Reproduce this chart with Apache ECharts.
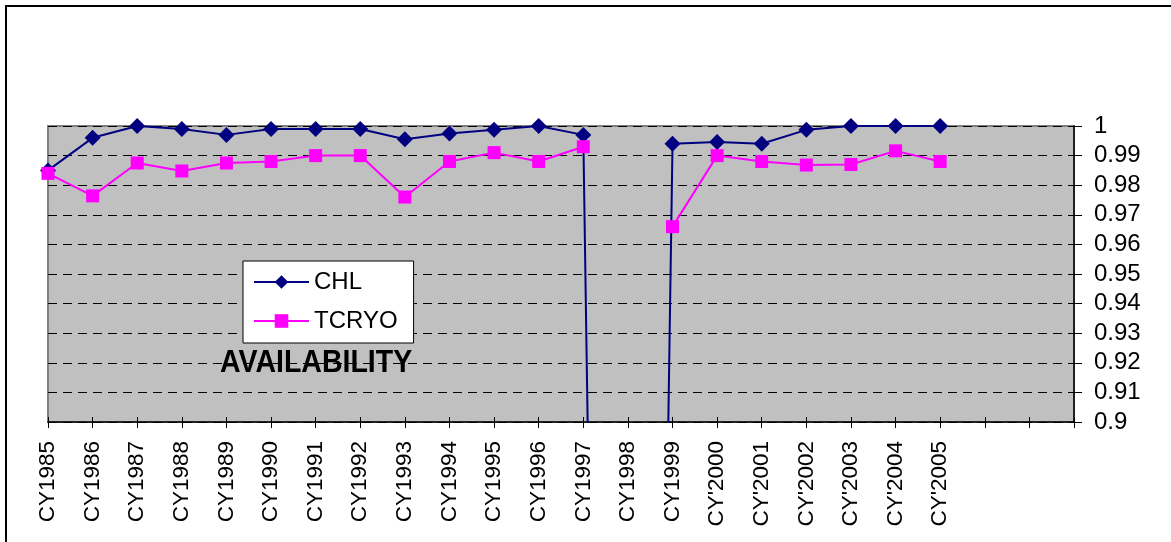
<!DOCTYPE html>
<html>
<head>
<meta charset="utf-8">
<script src="https://cdn.jsdelivr.net/npm/echarts@6/dist/echarts.min.js"></script>
<style>
  html, body { margin: 0; padding: 0; background: #fff; }
  #chart { width: 1171px; height: 542px; }
</style>
</head>
<body>
<div id="chart"></div>
<script>
// categories (last three are empty slots on the axis)
var years = ['CY1985', 'CY1986', 'CY1987', 'CY1988', 'CY1989', 'CY1990', 'CY1991',
  'CY1992', 'CY1993', 'CY1994', 'CY1995', 'CY1996', 'CY1997', 'CY1998', 'CY1999',
  "CY'2000", "CY'2001", "CY'2002", "CY'2003", "CY'2004", "CY'2005", '', '', ''];

var chl = [0.985, 0.996, 1.0, 0.999, 0.997, 0.999, 0.999, 0.999, 0.9955, 0.9975,
  0.9987, 1.0, 0.997, 0, 0.994, 0.9946, 0.994, 0.9987, 1.0, 1.0, 1.0];

var tcryo = [0.984, 0.9764, 0.9875, 0.9848, 0.9875, 0.988, 0.990, 0.990, 0.976, 0.988,
  0.991, 0.988, 0.993, null, 0.966, 0.990, 0.988, 0.9868, 0.987, 0.9916, 0.988];

var chart = echarts.init(document.getElementById('chart'));

var font = 'Liberation Sans, Arial, sans-serif';

chart.setOption({
  animation: false,
  grid: {
    left: 48, right: 97, top: 126, bottom: 120,
    show: true, backgroundColor: '#c0c0c0', borderColor: '#808080', borderWidth: 2
  },
  legend: {
    orient: 'vertical',
    left: 243, top: 261,
    padding: [9, 16, 10, 10],
    itemGap: 15,
    itemWidth: 55, itemHeight: 17,
    backgroundColor: '#fff',
    borderColor: '#000', borderWidth: 1,
    textStyle: { fontFamily: font, fontSize: 24, color: '#000' },
    data: ['CHL', 'TCRYO']
  },
  graphic: [
    {
      type: 'rect', silent: true,
      shape: { x: 6, y: 6, width: 1175, height: 545 },
      style: { fill: null, stroke: '#000', lineWidth: 2 }
    },
    {
      type: 'text', x: 220, y: 348, z: 100, scaleX: 0.92,
      style: { text: 'AVAILABILITY', fontFamily: font, fontWeight: 'bold', fontSize: 31, fill: '#000' }
    }
  ],
  xAxis: [
    {
      type: 'category', data: years, boundaryGap: false,
      axisLine: { lineStyle: { color: '#000', width: 1.5 } },
      axisTick: { show: true, interval: 0, length: 6, lineStyle: { color: '#000' } },
      axisLabel: {
        interval: 0, rotate: 90, margin: 19,
        fontFamily: font, fontSize: 22.5, color: '#000'
      },
      splitLine: { show: false }
    },
    {
      type: 'category', data: years, boundaryGap: false, position: 'bottom',
      axisLine: { show: false },
      axisTick: { show: true, inside: true, interval: 0, length: 5, lineStyle: { color: '#000' } },
      axisLabel: { show: false },
      splitLine: { show: false }
    }
  ],
  yAxis: {
    type: 'value', position: 'right',
    min: 0.9, max: 1.0, interval: 0.01,
    axisLine: { show: true, lineStyle: { color: '#000', width: 1.5 } },
    axisTick: { show: true, length: 8, lineStyle: { color: '#000' } },
    axisLabel: {
      margin: 20, fontFamily: font, fontSize: 24, color: '#000',
      formatter: function (v) { return String(Math.round(v * 100) / 100); }
    },
    splitLine: { show: true, lineStyle: { color: '#000', type: [9, 6], width: 1 } }
  },
  series: [
    {
      name: 'CHL', type: 'line', data: chl,
      symbol: 'diamond', symbolSize: 16,
      itemStyle: { color: '#000080' },
      lineStyle: { color: '#000080', width: 2 },
      connectNulls: false, z: 3
    },
    {
      name: 'TCRYO', type: 'line', data: tcryo,
      symbol: 'rect', symbolSize: 13,
      itemStyle: { color: '#ff00ff' },
      lineStyle: { color: '#ff00ff', width: 2 },
      connectNulls: false, z: 4
    }
  ]
});
</script>
</body>
</html>
